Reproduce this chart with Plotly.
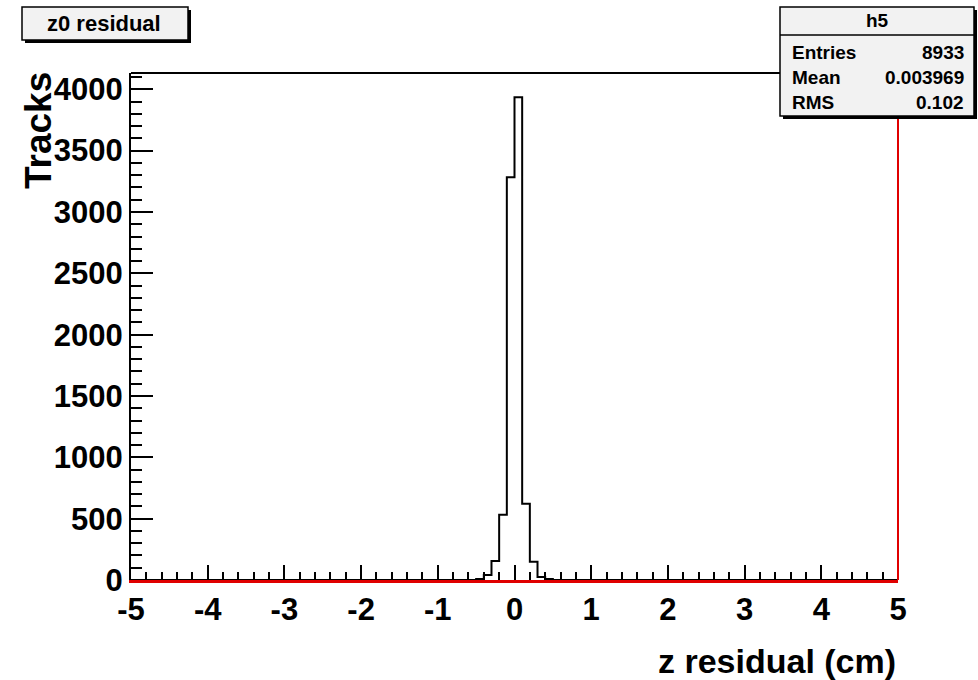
import numpy as np
import plotly.graph_objects as go

# Histogram "h5": z0 residual, 100 bins on [-5, 5]
n_bins = 100
x_low, x_high = -5.0, 5.0
# Non-empty bins (lower edge -> entries)
filled_lo_edges = [-0.5, -0.4, -0.3, -0.2, -0.1, 0.0, 0.1, 0.2, 0.3, 0.4]
filled_counts = [8, 40, 154, 532, 3284, 3936, 622, 148, 25, 8]

x_tick_vals = [-5, -4, -3, -2, -1, 0, 1, 2, 3, 4, 5]
x_tick_text = ["-5", "-4", "-3", "-2", "-1", "0", "1", "2", "3", "4", "5"]

stat_labels = ["Entries", "Mean", "RMS"]
stat_values = ["8933", "0.003969", "0.102"]
hist_name = "h5"
title_text = "z0 residual"
x_title = "z residual (cm)"
y_title = "Tracks"

edges = np.linspace(x_low, x_high, n_bins + 1)
bin_w = (x_high - x_low) / n_bins
counts = np.zeros(n_bins)
for lo, c in zip(filled_lo_edges, filled_counts):
    counts[int(round((lo - x_low) / bin_w))] = c

y_max = 1.05 * max(filled_counts)

W, H = 978, 680
L, R, T, B = 131, 898, 73, 580  # frame in pixels
FONT = "Liberation Sans"


def px(xp):
    return (xp - L) / (R - L)


def py(yp):
    return (B - yp) / (B - T)


fig = go.Figure()
# step outline of the histogram
fig.add_trace(go.Scatter(
    x=list(edges[:-1]) + [edges[-1]],
    y=list(counts) + [counts[-1]],
    mode="lines", line=dict(color="black", width=2, shape="hv"),
    hoverinfo="skip", showlegend=False,
))

shapes = [
    # top frame edge (black) and right frame edge (red)
    dict(type="line", xref="paper", yref="paper", x0=0, x1=1, y0=1, y1=1,
         line=dict(color="black", width=2), layer="above"),
    dict(type="line", xref="paper", yref="paper", x0=1, x1=1, y0=0, y1=1,
         line=dict(color="#e00000", width=2), layer="above"),
]


def box(x0, y0, x1, y1):
    # framed pad with a drop shadow
    return [
        dict(type="rect", xref="paper", yref="paper",
             x0=px(x0 + 3), x1=px(x1 + 3), y0=py(y1 + 3), y1=py(y0 + 3),
             line=dict(width=0), fillcolor="black", layer="above"),
        dict(type="rect", xref="paper", yref="paper",
             x0=px(x0), x1=px(x1), y0=py(y1), y1=py(y0),
             line=dict(color="black", width=1.5), fillcolor="#f2f2f2", layer="above"),
    ]


shapes += box(22, 7, 188, 40)
shapes += box(780, 7, 974, 116)
shapes.append(dict(type="line", xref="paper", yref="paper",
                   x0=px(780), x1=px(974), y0=py(35), y1=py(35),
                   line=dict(color="black", width=1.5), layer="above"))

ann = []
ann.append(dict(text=title_text, x=px(104), y=py(24), xref="paper", yref="paper",
                showarrow=False, xanchor="center", yanchor="middle",
                font=dict(family=FONT, size=22, color="black", weight="bold")))
ann.append(dict(text=hist_name, x=px(877), y=py(21), xref="paper", yref="paper",
                showarrow=False, xanchor="center", yanchor="middle",
                font=dict(family=FONT, size=19, color="black", weight="bold")))
for i, (lab, val) in enumerate(zip(stat_labels, stat_values)):
    yy = py(52 + 25.5 * i)
    ann.append(dict(text=lab, x=px(790), y=yy, xref="paper", yref="paper",
                    showarrow=False, xanchor="left", yanchor="middle",
                    font=dict(family=FONT, size=19, color="black", weight="bold")))
    ann.append(dict(text=val, x=px(966), y=yy, xref="paper", yref="paper",
                    showarrow=False, xanchor="right", yanchor="middle",
                    font=dict(family=FONT, size=19, color="black", weight="bold")))
ann.append(dict(text=x_title, x=px(898), y=py(661), xref="paper", yref="paper",
                showarrow=False, xanchor="right", yanchor="middle",
                font=dict(family=FONT, size=34, color="black", weight="bold")))
ann.append(dict(text=y_title, x=px(38), y=py(131), xref="paper", yref="paper",
                showarrow=False, xanchor="center", yanchor="middle", textangle=-90,
                font=dict(family=FONT, size=37, color="black", weight="bold")))

fig.update_layout(
    width=W, height=H, autosize=False,
    margin=dict(l=L, r=W - R, t=T, b=H - B, pad=0),
    paper_bgcolor="white", plot_bgcolor="white",
    shapes=shapes, annotations=ann, showlegend=False,
    xaxis=dict(
        range=[x_low, x_high], tickmode="array",
        tickvals=x_tick_vals, ticktext=x_tick_text,
        showgrid=False, zeroline=False,
        showline=True, linecolor="#e00000", linewidth=2.5,
        ticks="inside", ticklen=15, tickwidth=1.5, tickcolor="black",
        minor=dict(dtick=0.2, tick0=0, ticks="inside", ticklen=8, tickwidth=1.5,
                   tickcolor="black", showgrid=False),
        tickfont=dict(family=FONT, size=31, color="black", weight="bold"),
    ),
    yaxis=dict(
        range=[0, y_max], dtick=500, tick0=0,
        showgrid=False, zeroline=False,
        showline=True, linecolor="black", linewidth=2,
        ticks="inside", ticklen=22, tickwidth=1.5, tickcolor="black",
        minor=dict(dtick=100, ticks="inside", ticklen=11, tickwidth=1.5,
                   tickcolor="black", showgrid=False),
        tickfont=dict(family=FONT, size=31, color="black", weight="bold"),
    ),
)

fig.write_html("out.html")
